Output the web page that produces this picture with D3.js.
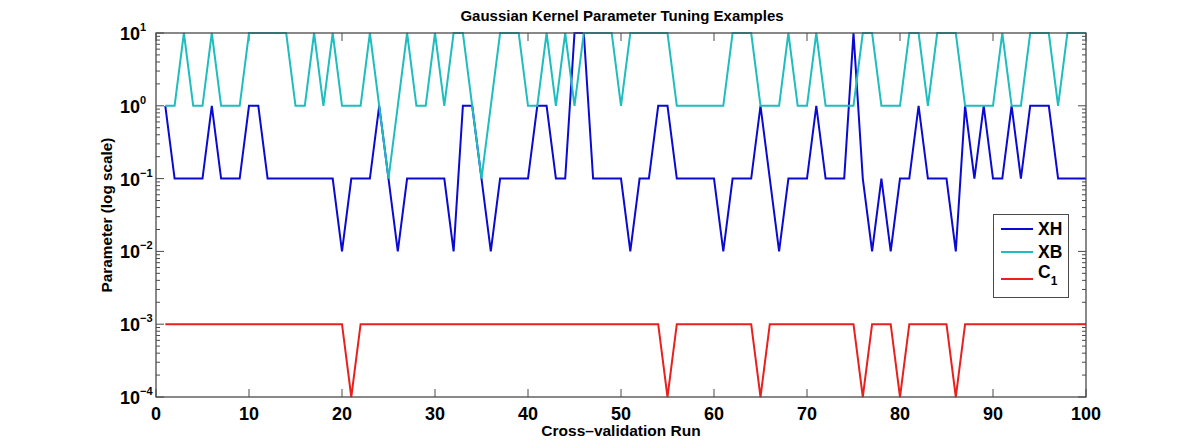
<!DOCTYPE html>
<html><head><meta charset="utf-8">
<script src="https://cdn.jsdelivr.net/npm/d3@7"></script>
<style>body{margin:0;background:#fff}svg{display:block}text{font-family:"Liberation Sans",Arial,sans-serif;font-weight:bold;fill:#000}</style>
</head><body><svg id="c" width="1200" height="448"></svg>
<script>
const runs = d3.range(1, 101);
const XH = [1,0.1,0.1,0.1,0.1,1,0.1,0.1,0.1,1,
 1,0.1,0.1,0.1,0.1,0.1,0.1,0.1,0.1,0.01,
 0.1,0.1,0.1,1,0.1,0.01,0.1,0.1,0.1,0.1,
 0.1,0.01,1,1,0.1,0.01,0.1,0.1,0.1,0.1,
 1,1,0.1,0.1,10,10,0.1,0.1,0.1,0.1,
 0.01,0.1,0.1,1,1,0.1,0.1,0.1,0.1,0.1,
 0.01,0.1,0.1,0.1,1,0.1,0.01,0.1,0.1,0.1,
 1,0.1,0.1,0.1,10,0.1,0.01,0.1,0.01,0.1,
 0.1,1,0.1,0.1,0.1,0.01,1,0.1,1,0.1,
 0.1,1,0.1,1,1,1,0.1,0.1,0.1,0.1];
const XB = [1,1,10,1,1,10,1,1,1,10,
 10,10,10,10,1,1,10,1,10,1,
 1,1,10,1,0.1,1,10,1,1,10,
 1,10,10,1,0.1,1,10,10,10,1,
 1,10,1,10,1,10,10,10,10,1,
 10,10,10,10,10,1,1,1,1,1,
 1,10,10,10,1,1,1,10,1,1,
 10,1,1,1,1,10,10,1,1,1,
 10,10,1,10,10,10,1,1,1,1,
 10,1,1,10,10,10,1,10,10,10];
const C1dips = [21,55,65,76,80,86];
const C1 = runs.map(r => C1dips.includes(r) ? 1e-4 : 1e-3);
const xTicks = d3.range(0, 101, 10);
const yTicks = [1e-4,1e-3,1e-2,1e-1,1,10];
const yExps = ["\u22124","\u22123","\u22122","\u22121","0","1"];
const seriesNames = ["XH","XB","C"];
const colors = ["#0a0ad2","#1fbdbd","#e8201e"];

const svg = d3.select("#c");
const L=156,R=1086,T=33,B=397;
const x = d3.scaleLinear().domain([0,100]).range([L,R]);
const y = d3.scaleLog().domain([1e-4,10]).range([B,T]);
const axc = "#4a4a4a";

const g = svg.append("g");
xTicks.forEach(t=>{
  g.append("line").attr("x1",x(t)).attr("x2",x(t)).attr("y1",B).attr("y2",B-8).attr("stroke",axc);
  g.append("line").attr("x1",x(t)).attr("x2",x(t)).attr("y1",T).attr("y2",T+8).attr("stroke",axc);
  svg.append("text").attr("x",x(t)).attr("y",420).attr("text-anchor","middle").attr("font-size",18).text(t);
});
for(let e=-4;e<1;e++){
  for(let m=2;m<10;m++){
    const v=m*Math.pow(10,e);
    g.append("line").attr("x1",L).attr("x2",L+4).attr("y1",y(v)).attr("y2",y(v)).attr("stroke",axc);
    g.append("line").attr("x1",R).attr("x2",R-4).attr("y1",y(v)).attr("y2",y(v)).attr("stroke",axc);
  }
}
yTicks.forEach((t,i)=>{
  g.append("line").attr("x1",L).attr("x2",L+8).attr("y1",y(t)).attr("y2",y(t)).attr("stroke",axc);
  g.append("line").attr("x1",R).attr("x2",R-8).attr("y1",y(t)).attr("y2",y(t)).attr("stroke",axc);
  const tx = svg.append("text").attr("x",120).attr("y",y(t)+7).attr("font-size",18);
  tx.append("tspan").text("10");
  tx.append("tspan").attr("dy",-9).attr("font-size",11).text(yExps[i]);
});

const line = d3.line().x((d,i)=>x(runs[i])).y(d=>y(d));
[XH,XB,C1].forEach((s,i)=>{
  svg.append("path").datum(s).attr("d",line).attr("fill","none").attr("stroke",colors[i]).attr("stroke-width",2).attr("stroke-linejoin","miter");
});

svg.append("rect").attr("x",L).attr("y",T).attr("width",R-L).attr("height",B-T).attr("fill","none").attr("stroke",axc).attr("stroke-width",1.3);

svg.append("text").attr("x",622).attr("y",21).attr("text-anchor","middle").attr("font-size",15).text("Gaussian Kernel Parameter Tuning Examples");
svg.append("text").attr("x",621).attr("y",436).attr("text-anchor","middle").attr("font-size",15.5).text("Cross\u2013validation Run");
svg.append("text").attr("transform","translate(112,215) rotate(-90)").attr("text-anchor","middle").attr("font-size",15.3).text("Parameter (log scale)");

const lg = svg.append("g");
lg.append("rect").attr("x",993.5).attr("y",214.5).attr("width",75).attr("height",83).attr("fill","#fff").attr("stroke",axc);
const ly=[229,252,279];
seriesNames.forEach((n,i)=>{
  lg.append("line").attr("x1",1001).attr("x2",1033).attr("y1",ly[i]).attr("y2",ly[i]).attr("stroke",colors[i]).attr("stroke-width",2);
  const t = lg.append("text").attr("x",1038).attr("y", i<2 ? ly[i]+6 : ly[i]-1).attr("font-size",17.5).text(n);
  if(i===2) t.append("tspan").attr("dy",7).attr("font-size",12).text("1");
});
</script></body></html>
